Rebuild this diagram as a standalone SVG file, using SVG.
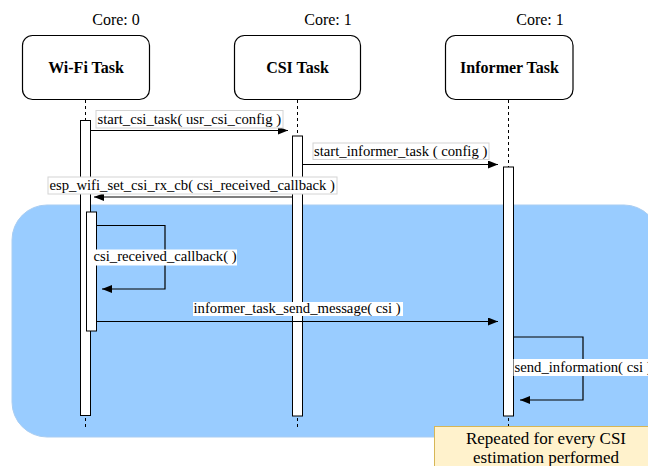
<svg xmlns="http://www.w3.org/2000/svg" width="648" height="466" viewBox="0 0 648 466" font-family="'Liberation Serif', 'DejaVu Serif', serif">
  <defs>
    <marker id="arrow" markerUnits="userSpaceOnUse" markerWidth="11" markerHeight="9" refX="10" refY="4" orient="auto">
      <path d="M0,0 L10,4 L0,8 Z" fill="#000"/>
    </marker>
    <style>
      .core { font-family: 'Liberation Serif', 'DejaVu Serif', serif; font-size: 16px; text-anchor: middle; fill: #000; }
      .title { font-family: 'Liberation Serif', 'DejaVu Serif', serif; font-size: 16px; font-weight: bold; text-anchor: middle; fill: #000; }
      .msg { font-family: 'Liberation Serif', 'DejaVu Serif', serif; font-size: 14.7px; fill: #000; }
      .note-text { font-family: 'Liberation Serif', 'DejaVu Serif', serif; font-size: 17px; text-anchor: middle; fill: #000; }
      .task { fill: #fff; stroke: #000; stroke-width: 1.2; }
      .life { stroke: #000; stroke-width: 1; stroke-dasharray: 3 3; fill: none; }
      .bar { fill: #fff; stroke: #000; stroke-width: 1; }
      .conn { fill: none; stroke: #000; stroke-width: 1.2; marker-end: url(#arrow); }
      .lbl { fill: #fff; stroke: #d4d4d4; stroke-width: 1; }
      .lbl-plain { fill: #fff; stroke: none; }
    </style>
  </defs>

  <!-- repeated loop region -->
  <g id="loop-region">
    <rect x="12" y="205" width="647" height="232" rx="35" ry="35" fill="#99ccff" stroke="#a9cdf2" stroke-width="1"/>
  </g>

  <!-- lifelines -->
  <g id="lifelines">
    <line class="life" x1="85.5" y1="100" x2="85.5" y2="428"/>
    <line class="life" x1="297.5" y1="100" x2="297.5" y2="428"/>
    <line class="life" x1="508.5" y1="100" x2="508.5" y2="428"/>
  </g>

  <!-- participants -->
  <g id="wifi-task">
    <text class="core" x="116" y="25">Core: 0</text>
    <rect class="task" x="22.5" y="35.5" width="127" height="64" rx="10" ry="10"/>
    <text class="title" x="86" y="73">Wi-Fi Task</text>
    <rect class="bar" x="80.5" y="120.5" width="10" height="295"/>
    <rect class="bar" x="86.5" y="212" width="10" height="119"/>
  </g>

  <g id="csi-task">
    <text class="core" x="328" y="25">Core: 1</text>
    <rect class="task" x="234.5" y="35.5" width="126" height="64" rx="10" ry="10"/>
    <text class="title" x="297.5" y="73">CSI Task</text>
    <rect class="bar" x="292.5" y="136" width="10" height="280"/>
  </g>

  <g id="informer-task">
    <text class="core" x="540" y="25">Core: 1</text>
    <rect class="task" x="445.5" y="35.5" width="127.5" height="64" rx="10" ry="10"/>
    <text class="title" x="509.5" y="73">Informer Task</text>
    <rect class="bar" x="503.5" y="167" width="10" height="249"/>
  </g>

  <!-- messages -->
  <g id="connectors">
    <path class="conn" d="M91,130.5 L288,130.5"/>
    <path class="conn" d="M302.5,164.5 L498,164.5"/>
    <path class="conn" d="M292.5,197 L94,197"/>
    <path class="conn" d="M96.5,225.5 L165,225.5 L165,289 L102,289"/>
    <path class="conn" d="M96.5,321.5 L498,321.5"/>
    <path class="conn" d="M513.5,337 L583,337 L583,400 L520,400"/>
  </g>

  <!-- message labels -->
  <g id="labels">
    <rect class="lbl" x="96" y="110.5" width="187" height="17.5"/>
    <text class="msg" x="97.5" y="124">start_csi_task( usr_csi_config )</text>

    <rect class="lbl" x="313" y="143" width="176" height="16.5"/>
    <text class="msg" x="314" y="156">start_informer_task ( config )</text>

    <rect class="lbl" x="48" y="177" width="289" height="17"/>
    <text class="msg" x="49.5" y="190">esp_wifi_set_csi_rx_cb( csi_received_callback )</text>

    <rect class="lbl-plain" x="93" y="249.5" width="144" height="16"/>
    <text class="msg" x="93.5" y="261">csi_received_callback( )</text>

    <rect class="lbl-plain" x="193" y="302" width="210" height="14"/>
    <text class="msg" x="193.5" y="313">informer_task_send_message( csi )</text>

    <rect class="lbl-plain" x="513.5" y="359" width="140" height="17"/>
    <text class="msg" x="514.5" y="372">send_information( csi )</text>
  </g>

  <!-- note -->
  <g id="note">
    <rect x="434.5" y="426.5" width="226" height="60" fill="#fff2cc" stroke="#d6b656" stroke-width="1"/>
    <text class="note-text" x="546" y="444">Repeated for every CSI</text>
    <text class="note-text" x="546" y="463">estimation performed</text>
  </g>
</svg>
